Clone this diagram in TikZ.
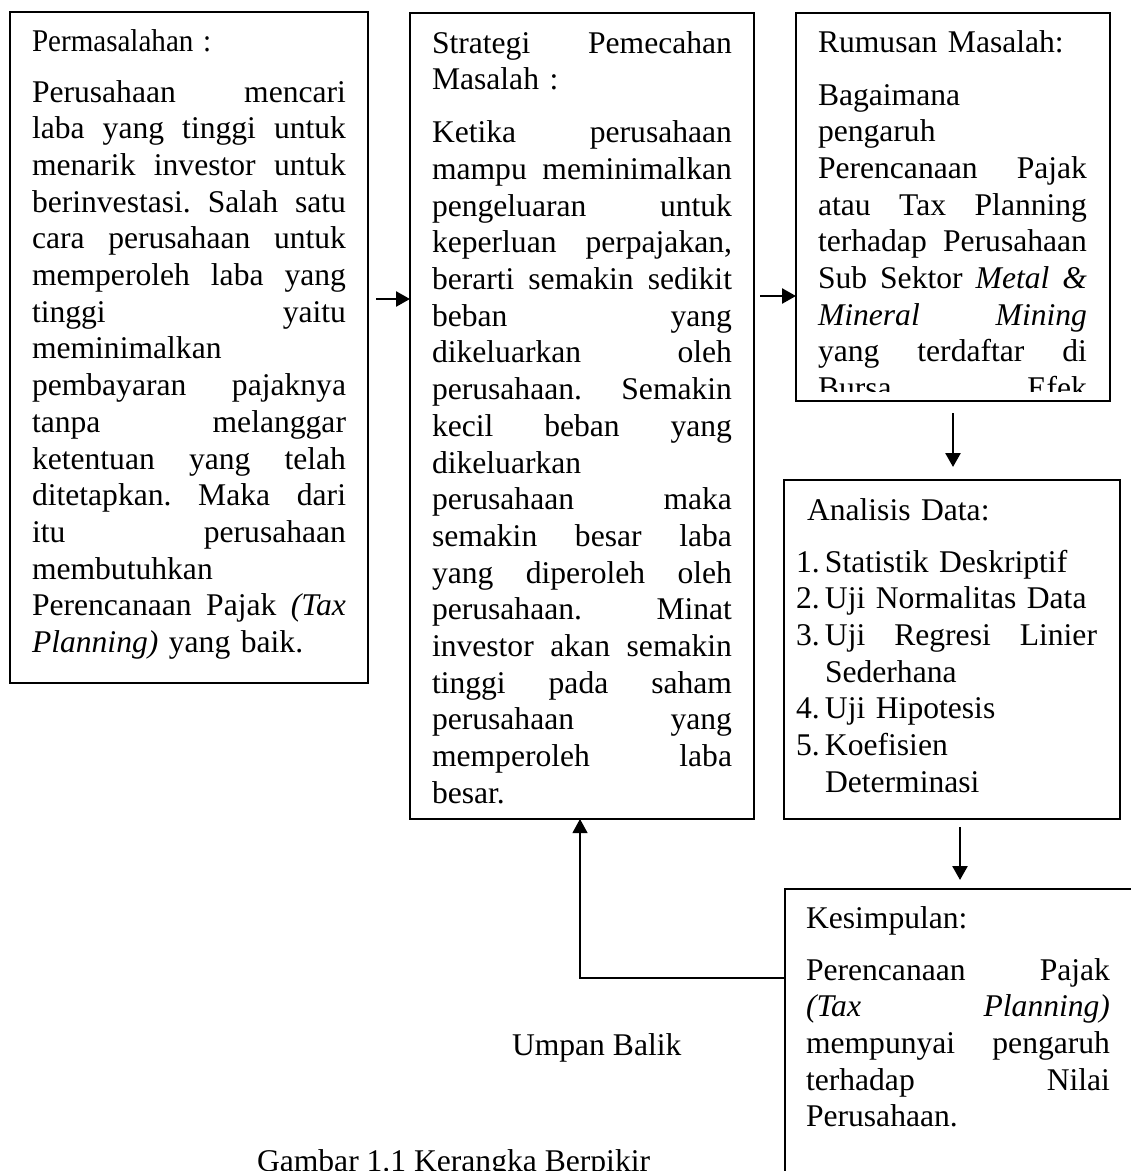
\documentclass[tikz,border=0pt]{standalone}
\usepackage{fontspec}
\usepackage{graphicx}
\setmainfont{Liberation Serif}
\usetikzlibrary{arrows.meta,calc}
\newlength{\jw}
\newcommand{\jl}[1]{\leavevmode\hbox to \jw{\spaceskip=0.25em plus 1fil minus 0.05em\relax #1}}
\newcommand{\numb}[1]{\makebox[29pt][l]{#1}}
\tikzset{
  boxnode/.style={draw, line width=2pt, rectangle, inner sep=0pt, outer sep=0pt, anchor=north west},
  txt/.style={inner sep=0pt, outer sep=0pt, anchor=base west,
    font=\fontsize{31.6pt}{36.7pt}\selectfont\frenchspacing},
  arr/.style={line width=2.6pt, -{Triangle[length=14pt,width=15pt]}},
  fbarr/.style={line width=1.1pt, -{Triangle[length=14pt,width=15pt]}}
}
\begin{document}
\begin{tikzpicture}[x=1pt,y=-1pt]
\useasboundingbox (0,0) rectangle (1131,1171);
\fill[white] (0,0) rectangle (1131,1171);
\clip (0,0) rectangle (1131,1171);

% boxes
\node[boxnode, minimum width=358pt, minimum height=671pt] (b1) at (10,12) {};
\node[boxnode, minimum width=344pt, minimum height=806pt] (b2) at (410,13) {};
\node[boxnode, minimum width=314pt, minimum height=388pt] (b3) at (796,13) {};
\node[boxnode, minimum width=336pt, minimum height=339pt] (b4) at (784,480) {};
\node[boxnode, minimum width=370pt, minimum height=320pt] (b5) at (785,889) {};

% texts
\node[txt, text width=314pt] (t1) at (32,51) {%
\setlength{\jw}{314pt}%
\scalebox{0.92}[1]{Permasalahan :}\\[14.3pt]
\jl{Perusahaan mencari}\\
\jl{laba yang tinggi untuk}\\
\jl{menarik investor untuk}\\
\jl{berinvestasi. Salah satu}\\
\jl{cara perusahaan untuk}\\
\jl{memperoleh laba yang}\\
\jl{tinggi yaitu}\\
meminimalkan\\
\jl{pembayaran pajaknya}\\
\jl{tanpa melanggar}\\
\jl{ketentuan yang telah}\\
\jl{ditetapkan. Maka dari}\\
\jl{itu perusahaan}\\
membutuhkan\\
\jl{Perencanaan Pajak \textit{(Tax}}\\
\textit{Planning)} yang baik.};

\node[txt, text width=300pt] (t2) at (432,53) {%
\setlength{\jw}{300pt}%
\jl{Strategi Pemecahan}\\
Masalah :\\[16.3pt]
\jl{Ketika perusahaan}\\
\jl{mampu meminimalkan}\\
\jl{pengeluaran untuk}\\
\jl{keperluan perpajakan,}\\
\jl{berarti semakin sedikit}\\
\jl{beban yang}\\
\jl{dikeluarkan oleh}\\
\jl{perusahaan. Semakin}\\
\jl{kecil beban yang}\\
dikeluarkan\\
\jl{perusahaan maka}\\
\jl{semakin besar laba}\\
\jl{yang diperoleh oleh}\\
\jl{perusahaan. Minat}\\
\jl{investor akan semakin}\\
\jl{tinggi pada saham}\\
\jl{perusahaan yang}\\
\jl{memperoleh laba}\\
besar.};

\begin{scope}
\clip (797,14) rectangle (1109,391);
\node[txt, text width=269pt] (t3) at (818,52) {%
\setlength{\jw}{269pt}%
Rumusan Masalah:\\[16.3pt]
Bagaimana\\
pengaruh\\
\jl{Perencanaan Pajak}\\
\jl{atau Tax Planning}\\
\jl{terhadap Perusahaan}\\
\jl{Sub Sektor \textit{Metal \&}}\\
\jl{\textit{Mineral Mining}}\\
\jl{yang terdaftar di}\\
\jl{Bursa Efek}};
\end{scope}

\node[txt, text width=301pt] (t4) at (796,520) {%
\setlength{\jw}{272pt}%
\hspace*{11pt}Analisis Data:\\[15.3pt]
\numb{1.}Statistik Deskriptif\\
\numb{2.}Uji Normalitas Data\\
\numb{3.}\jl{Uji Regresi Linier}\\
\hspace*{29pt}Sederhana\\
\numb{4.}Uji Hipotesis\\
\numb{5.}Koefisien\\
\hspace*{29pt}Determinasi};

\node[txt, text width=304pt] (t5) at (806,928) {%
\setlength{\jw}{304pt}%
Kesimpulan:\\[15.3pt]
\jl{Perencanaan Pajak}\\
\jl{\textit{(Tax Planning)}}\\
\jl{mempunyai pengaruh}\\
\jl{terhadap Nilai}\\
Perusahaan.};

\node[txt] (umpan) at (512,1055) {Umpan Balik};
\node[txt] (gambar) at (257,1171) {Gambar 1.1 Kerangka Berpikir};

% connectors
\coordinate (ya) at (0,299);
\coordinate (yb) at (0,296);
\coordinate (xa) at (953,0);
\coordinate (xb) at (960,0);
\coordinate (yf) at (0,978);
\coordinate (xf) at (580,0);

\draw[arr, shorten <=8pt] (b1.east |- ya) -- (b2.west |- ya);
\draw[arr, shorten <=6pt] (b2.east |- yb) -- (b3.west |- yb);
\draw[arr, shorten <=12pt, shorten >=13pt] (b3.south -| xa) -- (b4.north -| xa);
\draw[arr, shorten <=8pt, shorten >=9pt] (b4.south -| xb) -- (b5.north -| xb);
\draw[fbarr] (b5.west |- yf) -| (b2.south -| xf);
\end{tikzpicture}
\end{document}
